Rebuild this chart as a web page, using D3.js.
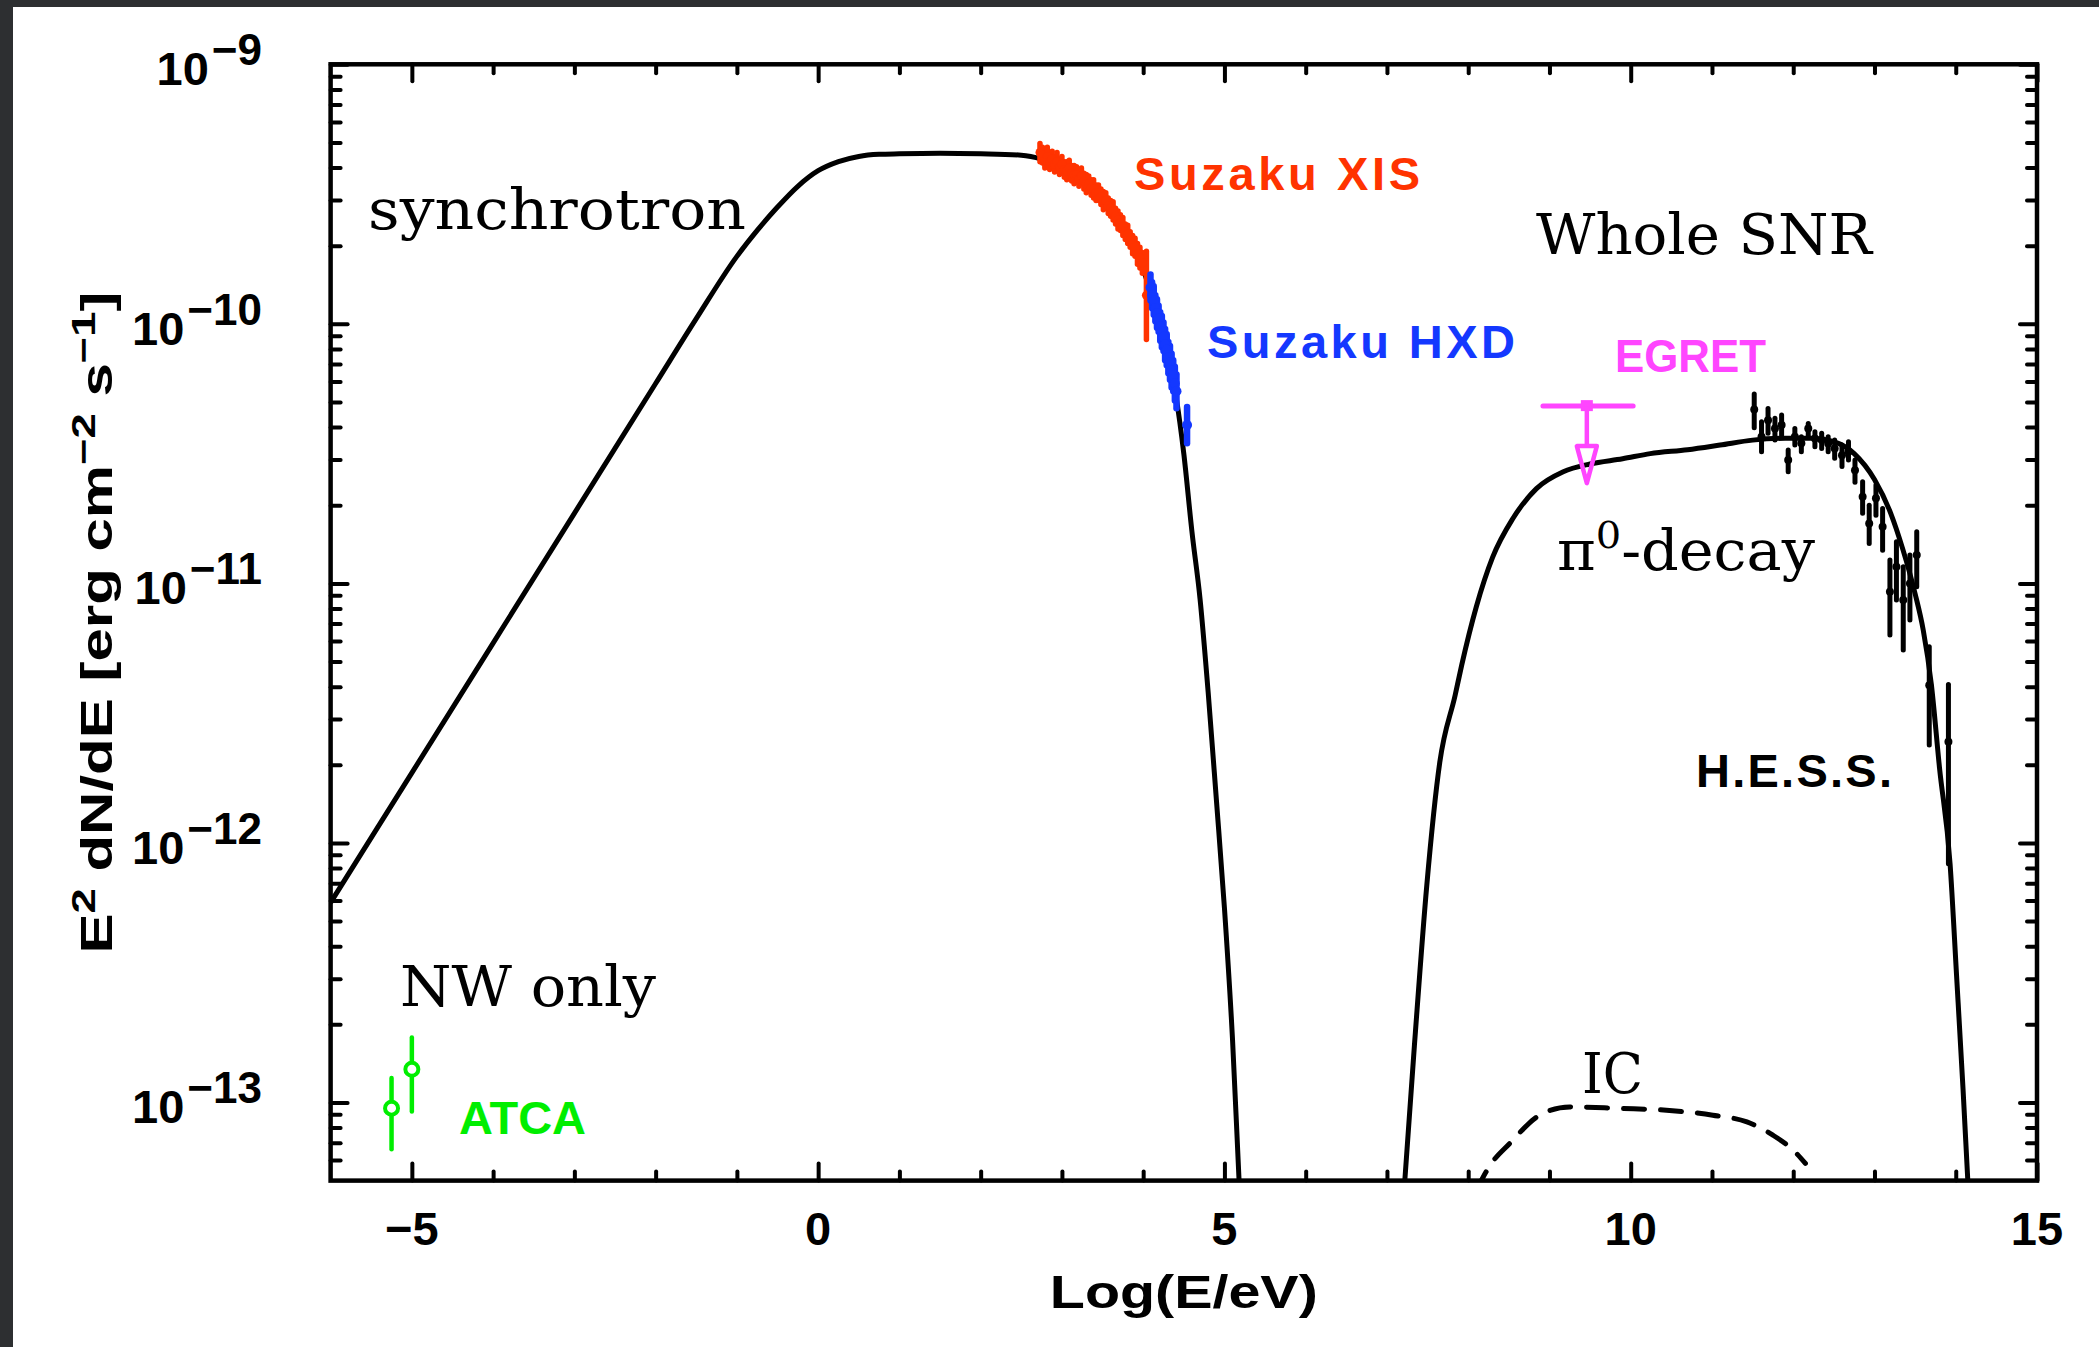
<!DOCTYPE html>
<html><head><meta charset="utf-8">
<script src="https://cdn.jsdelivr.net/npm/d3@7"></script>
<style>
html,body{margin:0;padding:0;background:#fff;}
svg{display:block;}
</style></head><body>
<svg id="chart" width="2099" height="1347"></svg>
<script>
// ================= DATA =================
const xTickValues = [-5, 0, 5, 10, 15];
const xTickLabels = ["\u22125", "0", "5", "10", "15"];
const yTickExponents = [-9, -10, -11, -12, -13];
const yTickSupLabels = ["\u22129", "\u221210", "\u221211", "\u221212", "\u221213"];

// synchrotron model (log10 E [eV], log10 E^2dN/dE [erg cm^-2 s^-1])
const synchLogE = [-6, -5, -4, -3, -2, -1.5, -1, -0.75, -0.5, -0.25, 0, 0.25, 0.5, 0.75, 1, 1.5, 2, 2.5, 2.75, 3, 3.25, 3.5, 3.75, 4, 4.2, 4.4, 4.5, 4.6, 4.7, 4.8, 4.9, 5, 5.1, 5.18, 5.25];
const synchLogF = [-12.23, -11.73, -11.23, -10.73, -10.23, -9.98, -9.74, -9.64, -9.55, -9.47, -9.41, -9.375, -9.355, -9.347, -9.345, -9.343, -9.345, -9.35, -9.365, -9.395, -9.44, -9.51, -9.62, -9.79, -9.99, -10.27, -10.50, -10.80, -11.06, -11.42, -11.83, -12.25, -12.76, -13.3, -13.75];

// pi0-decay model
const pionLogE = [7.15, 7.22, 7.35, 7.49, 7.65, 7.84, 7.92, 8.1, 8.3, 8.55, 8.84, 9.17, 9.5, 9.9, 10.24, 10.7, 11.1, 11.5, 11.9, 12.25, 12.5, 12.75, 13.0, 13.2, 13.35, 13.5, 13.6, 13.7, 13.8, 13.93, 14.01, 14.09, 14.15, 14.2];
const pionLogF = [-13.65, -13.3, -12.73, -12.165, -11.69, -11.43, -11.315, -11.09, -10.9, -10.75, -10.635, -10.57, -10.54, -10.52, -10.50, -10.485, -10.467, -10.448, -10.441, -10.441, -10.454, -10.50, -10.60, -10.73, -10.87, -11.04, -11.18, -11.39, -11.71, -12.08, -12.51, -12.95, -13.31, -13.6];

// inverse-Compton model (dashed)
const icLogE = [8.1, 8.18, 8.27, 8.51, 8.88, 9.25, 9.86, 10.44, 11.01, 11.43, 11.75, 12.02, 12.15];
const icLogF = [-13.34, -13.29, -13.242, -13.158, -13.049, -13.017, -13.023, -13.03, -13.049, -13.075, -13.126, -13.19, -13.235];

// Suzaku XIS
const xisLogE = [2.73, 2.76, 2.79, 2.82, 2.85, 2.88, 2.91, 2.94, 2.97, 3.00, 3.03, 3.06, 3.09, 3.12, 3.15, 3.18, 3.21, 3.24, 3.27, 3.30, 3.33, 3.36, 3.39, 3.42, 3.45, 3.48, 3.51, 3.54, 3.57, 3.60, 3.63, 3.66, 3.69, 3.72, 3.75, 3.78, 3.81, 3.84, 3.87, 3.90, 3.93, 3.96, 3.99, 4.04];
const xisLogF = [-9.34, -9.35, -9.37, -9.355, -9.375, -9.365, -9.385, -9.375, -9.395, -9.385, -9.405, -9.41, -9.40, -9.42, -9.425, -9.425, -9.44, -9.43, -9.45, -9.46, -9.46, -9.475, -9.48, -9.495, -9.495, -9.51, -9.525, -9.525, -9.545, -9.555, -9.565, -9.585, -9.60, -9.61, -9.625, -9.645, -9.655, -9.675, -9.695, -9.705, -9.73, -9.745, -9.765, -9.89];
const xisErr  = [0.035, 0.03, 0.03, 0.035, 0.03, 0.03, 0.03, 0.035, 0.03, 0.03, 0.03, 0.035, 0.03, 0.03, 0.035, 0.03, 0.03, 0.03, 0.03, 0.035, 0.03, 0.03, 0.035, 0.03, 0.03, 0.03, 0.035, 0.03, 0.03, 0.03, 0.035, 0.03, 0.035, 0.03, 0.035, 0.03, 0.035, 0.03, 0.035, 0.035, 0.04, 0.04, 0.04, 0.17];

// Suzaku HXD
const hxdLogE = [4.09, 4.11, 4.13, 4.15, 4.17, 4.19, 4.21, 4.23, 4.25, 4.27, 4.29, 4.31, 4.33, 4.35, 4.37, 4.39, 4.41, 4.54];
const hxdLogF = [-9.86, -9.89, -9.91, -9.94, -9.96, -9.98, -10.01, -10.03, -10.05, -10.08, -10.10, -10.13, -10.15, -10.18, -10.20, -10.23, -10.26, -10.39];
const hxdErr  = [0.05, 0.05, 0.055, 0.05, 0.055, 0.05, 0.055, 0.06, 0.055, 0.06, 0.06, 0.06, 0.065, 0.065, 0.06, 0.065, 0.065, 0.07];

// H.E.S.S.
const hessLogE = [11.52, 11.61, 11.69, 11.775, 11.857, 11.938, 12.02, 12.10, 12.185, 12.267, 12.35, 12.43, 12.51, 12.6, 12.68, 12.76, 12.854, 12.935, 13.018, 13.1, 13.19, 13.27, 13.354, 13.436, 13.52, 13.674, 13.91];
const hessLogF = [-10.33, -10.435, -10.371, -10.403, -10.39, -10.525, -10.435, -10.46, -10.403, -10.442, -10.448, -10.461, -10.48, -10.506, -10.493, -10.564, -10.666, -10.769, -10.672, -10.782, -11.032, -10.936, -11.064, -11.0, -10.891, -11.392, -11.61];
const hessHi   = [-10.27, -10.377, -10.326, -10.364, -10.351, -10.486, -10.403, -10.435, -10.384, -10.416, -10.422, -10.435, -10.448, -10.467, -10.454, -10.525, -10.608, -10.699, -10.621, -10.711, -10.91, -10.84, -10.936, -10.891, -10.801, -11.244, -11.39];
const hessLo   = [-10.40, -10.493, -10.422, -10.448, -10.429, -10.57, -10.467, -10.493, -10.429, -10.474, -10.48, -10.493, -10.518, -10.55, -10.525, -10.61, -10.73, -10.846, -10.737, -10.872, -11.199, -11.064, -11.257, -11.141, -11.013, -11.623, -12.08];

// ATCA
const atcaLogE = [-5.25, -5.0];
const atcaLogF = [-13.022, -12.872];
const atcaHi   = [-12.906, -12.75];
const atcaLo   = [-13.18, -13.035];

// EGRET upper limit
const egretLogE = [9.46];
const egretLogF = [-10.317];
const egretEmin = [8.92];
const egretEmax = [10.03];

// ================= LAYOUT =================
const W = 2099, H = 1347;
const M = {left: 330.6, right: 2037, top: 64.3, bottom: 1180.6};
const x = d3.scaleLinear().domain([-6, 15]).range([M.left, M.right]);
const y = d3.scaleLog().domain([5e-14, 1e-9]).range([M.bottom, M.top]);
const P = v => Math.pow(10, v);

const svg = d3.select("#chart");

// page background (dark border + white sheet)
svg.append("rect").attr("width", W).attr("height", H).attr("fill", "#2d2f31");
svg.append("rect").attr("x", 13).attr("y", 7).attr("width", W - 13).attr("height", H - 7).attr("fill", "#ffffff");

svg.append("defs").append("clipPath").attr("id", "plotclip")
  .append("rect").attr("x", M.left).attr("y", M.top)
  .attr("width", M.right - M.left).attr("height", M.bottom - M.top);

const plot = svg.append("g").attr("clip-path", "url(#plotclip)");

const line = d3.line().x(d => x(d[0])).y(d => y(P(d[1]))).curve(d3.curveMonotoneX);

// models
plot.append("path").datum(d3.zip(synchLogE, synchLogF)).attr("d", line)
  .attr("fill", "none").attr("stroke", "#000").attr("stroke-width", 5).attr("stroke-linejoin", "round");
plot.append("path").datum(d3.zip(pionLogE, pionLogF)).attr("d", line)
  .attr("fill", "none").attr("stroke", "#000").attr("stroke-width", 5).attr("stroke-linejoin", "round");
plot.append("path").datum(d3.zip(icLogE, icLogF)).attr("d", line)
  .attr("fill", "none").attr("stroke", "#000").attr("stroke-width", 5)
  .attr("stroke-dasharray", "21,16").attr("stroke-linecap", "round");

// error-bar helper
function errBars(g, E, Fc, lo, hi, color, sw, r) {
  const d = E.map((e, i) => ({e, f: Fc[i], lo: lo[i], hi: hi[i]}));
  g.selectAll(null).data(d).enter().append("line")
    .attr("x1", v => x(v.e)).attr("x2", v => x(v.e))
    .attr("y1", v => y(P(v.hi))).attr("y2", v => y(P(v.lo)))
    .attr("stroke", color).attr("stroke-width", sw).attr("stroke-linecap", "round");
  if (r > 0) {
    g.selectAll(null).data(d).enter().append("circle")
      .attr("cx", v => x(v.e)).attr("cy", v => y(P(v.f))).attr("r", r).attr("fill", color);
  }
}

const xisColor = "#ff3300", hxdColor = "#1438ff", egretColor = "#ff45ff", atcaColor = "#00ee00";

errBars(plot.append("g"), xisLogE, xisLogF, xisLogF.map((f, i) => f - xisErr[i]), xisLogF.map((f, i) => f + xisErr[i]), xisColor, 5.5, 4.5);
errBars(plot.append("g"), hxdLogE, hxdLogF, hxdLogF.map((f, i) => f - hxdErr[i]), hxdLogF.map((f, i) => f + hxdErr[i]), hxdColor, 6.5, 5);
errBars(plot.append("g"), hessLogE, hessLogF, hessLo, hessHi, "#000", 5, 4);

// ATCA
const atcaG = plot.append("g");
errBars(atcaG, atcaLogE, atcaLogF, atcaLo, atcaHi, atcaColor, 4.5, 0);
atcaG.selectAll(null).data(d3.zip(atcaLogE, atcaLogF)).enter().append("circle")
  .attr("cx", d => x(d[0])).attr("cy", d => y(P(d[1]))).attr("r", 6.5)
  .attr("fill", "#fff").attr("stroke", atcaColor).attr("stroke-width", 4);

// EGRET upper limit
const egG = plot.append("g");
egretLogE.forEach((e, i) => {
  const cx = x(e), cy = y(P(egretLogF[i]));
  egG.append("line").attr("x1", x(egretEmin[i])).attr("x2", x(egretEmax[i])).attr("y1", cy).attr("y2", cy)
    .attr("stroke", egretColor).attr("stroke-width", 5).attr("stroke-linecap", "round");
  egG.append("rect").attr("x", cx - 6).attr("y", cy - 6).attr("width", 12).attr("height", 11).attr("fill", egretColor);
  egG.append("line").attr("x1", cx).attr("x2", cx).attr("y1", cy).attr("y2", cy + 40)
    .attr("stroke", egretColor).attr("stroke-width", 4.5);
  egG.append("path").attr("d", `M${cx - 10},${cy + 40} L${cx + 10},${cy + 40} L${cx},${cy + 77} Z`)
    .attr("fill", "none").attr("stroke", egretColor).attr("stroke-width", 4.5).attr("stroke-linejoin", "round");
});

// ================= AXES =================
const tickStyle = g => {
  g.select(".domain").remove();
  g.selectAll(".tick line").attr("stroke", "#000").attr("stroke-width", 4).attr("stroke-linecap", "round");
  g.selectAll(".tick text").remove();
};
const xMinor = d3.range(-6, 16).filter(v => v > -6 && v < 15 && v % 5 !== 0);
const yMinor = [];
[-14, -13, -12, -11, -10].forEach(e => { for (let m = 2; m <= 9; m++) { const v = m * Math.pow(10, e); if (v > 5.01e-14 && v < 1e-9) yMinor.push(v); } });
const yMajor = yTickExponents.map(e => Math.pow(10, e));

svg.append("g").attr("transform", `translate(0,${M.bottom})`).call(d3.axisBottom(x).tickValues(xTickValues).tickSize(-17).tickFormat("")).call(tickStyle);
svg.append("g").attr("transform", `translate(0,${M.bottom})`).call(d3.axisBottom(x).tickValues(xMinor).tickSize(-9).tickFormat("")).call(tickStyle);
svg.append("g").attr("transform", `translate(0,${M.top})`).call(d3.axisTop(x).tickValues(xTickValues).tickSize(-17).tickFormat("")).call(tickStyle);
svg.append("g").attr("transform", `translate(0,${M.top})`).call(d3.axisTop(x).tickValues(xMinor).tickSize(-9).tickFormat("")).call(tickStyle);
svg.append("g").attr("transform", `translate(${M.left},0)`).call(d3.axisLeft(y).tickValues(yMajor).tickSize(-17).tickFormat("")).call(tickStyle);
svg.append("g").attr("transform", `translate(${M.left},0)`).call(d3.axisLeft(y).tickValues(yMinor).tickSize(-10).tickFormat("")).call(tickStyle);
svg.append("g").attr("transform", `translate(${M.right},0)`).call(d3.axisRight(y).tickValues(yMajor).tickSize(-17).tickFormat("")).call(tickStyle);
svg.append("g").attr("transform", `translate(${M.right},0)`).call(d3.axisRight(y).tickValues(yMinor).tickSize(-10).tickFormat("")).call(tickStyle);

// frame
svg.append("rect").attr("x", M.left).attr("y", M.top).attr("width", M.right - M.left).attr("height", M.bottom - M.top)
  .attr("fill", "none").attr("stroke", "#000").attr("stroke-width", 4.5);

// tick labels
const tickFont = "'Liberation Sans', Arial, sans-serif";
svg.append("g").selectAll("text").data(xTickValues).enter().append("text")
  .attr("x", d => x(d)).attr("y", M.bottom + 64)
  .attr("text-anchor", "middle").attr("font-family", tickFont).attr("font-weight", "bold").attr("font-size", 47)
  .text((d, i) => xTickLabels[i]);

const yl = svg.append("g").selectAll("text").data(yTickExponents).enter().append("text")
  .attr("x", 262).attr("y", d => y(Math.pow(10, d)) + 21)
  .attr("text-anchor", "end").attr("font-family", tickFont).attr("font-weight", "bold").attr("font-size", 47);
yl.append("tspan").text("10");
yl.append("tspan").attr("dy", -20).attr("font-size", 44).attr("dx", 3).text((d, i) => yTickSupLabels[i]);

// axis titles
svg.append("text").attr("x", (M.left + M.right) / 2).attr("y", 1308)
  .attr("text-anchor", "middle").attr("font-family", tickFont).attr("font-weight", "bold").attr("font-size", 47)
  .attr("textLength", 268).attr("lengthAdjust", "spacingAndGlyphs")
  .text("Log(E/eV)");

const yt = svg.append("text").attr("transform", `translate(112,${(M.top + M.bottom) / 2}) rotate(-90)`)
  .attr("text-anchor", "middle").attr("font-family", tickFont).attr("font-weight", "bold").attr("font-size", 45)
  .attr("textLength", 662).attr("lengthAdjust", "spacingAndGlyphs");
yt.append("tspan").text("E");
yt.append("tspan").attr("dy", -17).attr("font-size", 34).text("2");
yt.append("tspan").attr("dy", 17).text(" dN/dE [erg cm");
yt.append("tspan").attr("dy", -17).attr("font-size", 34).text("\u22122");
yt.append("tspan").attr("dy", 17).text(" s");
yt.append("tspan").attr("dy", -17).attr("font-size", 34).text("\u22121");
yt.append("tspan").attr("dy", 17).text("]");

// serif annotations
const serif = "'DejaVu Serif', 'Liberation Serif', serif";
function serifLabel(txt, x0, yb, len) {
  return svg.append("text").attr("x", x0).attr("y", yb).attr("font-family", serif).attr("font-size", 56)
    .attr("fill", "#000").attr("textLength", len).attr("lengthAdjust", "spacingAndGlyphs").text(txt);
}
serifLabel("synchrotron", 368, 229, 378);
serifLabel("Whole SNR", 1536, 254, 336);
serifLabel("NW only", 400, 1006, 256);
serifLabel("IC", 1582, 1093, 61);
const pi = svg.append("text").attr("x", 1557).attr("y", 570).attr("font-family", serif).attr("font-size", 56)
  .attr("textLength", 258).attr("lengthAdjust", "spacingAndGlyphs");
pi.append("tspan").text("\u03c0");
pi.append("tspan").attr("dy", -22).attr("font-size", 38).text("0");
pi.append("tspan").attr("dy", 22).text("-decay");

// instrument labels
function instLabel(txt, x0, yb, len, color, adj) {
  svg.append("text").attr("x", x0).attr("y", yb).attr("font-family", tickFont).attr("font-weight", "bold")
    .attr("font-size", 47).attr("fill", color).attr("textLength", len).attr("lengthAdjust", adj).text(txt);
}
instLabel("Suzaku XIS", 1134, 190, 286, xisColor, "spacing");
instLabel("Suzaku HXD", 1207, 358, 308, hxdColor, "spacing");
instLabel("EGRET", 1615, 372, 151, egretColor, "spacingAndGlyphs");
instLabel("ATCA", 459, 1134, 127, atcaColor, "spacingAndGlyphs");
instLabel("H.E.S.S.", 1696, 787, 196, "#000", "spacing");
</script>
</body></html>
